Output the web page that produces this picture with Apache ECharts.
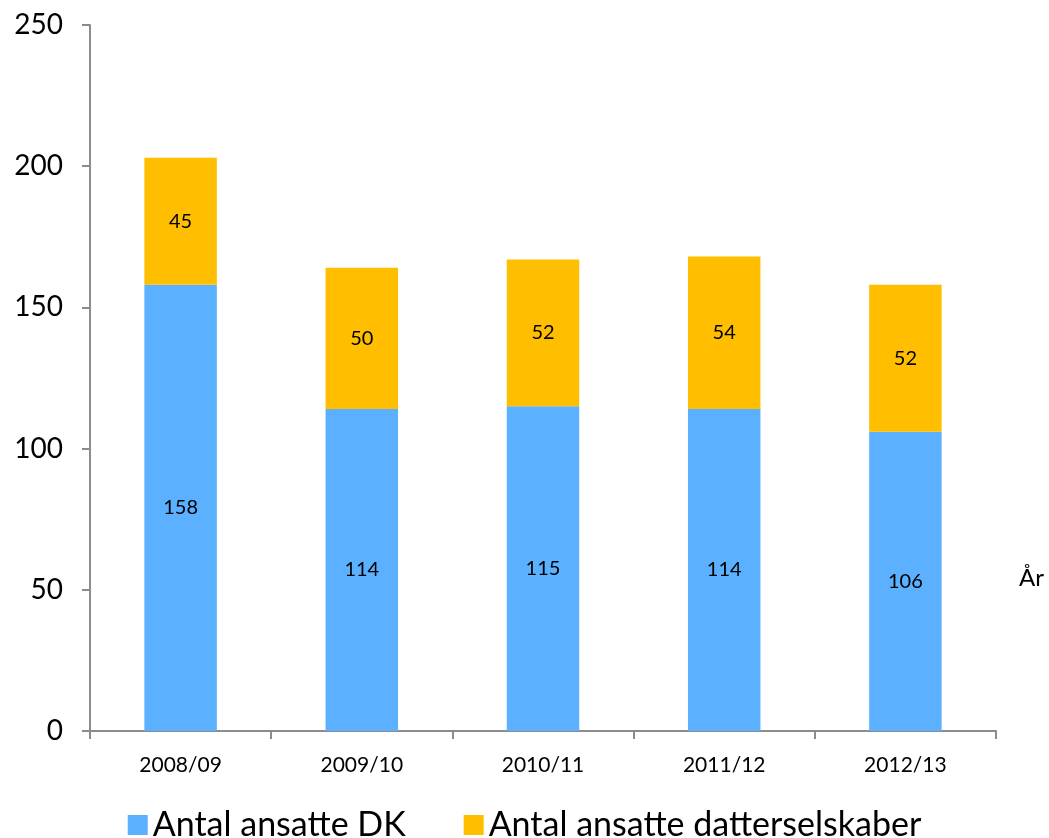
<!DOCTYPE HTML>
<html>
	<head>
		<meta http-equiv="Content-type" content="text/html; charset=UTF-8" />
		<script type="text/javascript" src="https://cdn.jsdelivr.net/npm/echarts@6/dist/echarts.min.js"></script>
		<style>
			html, body { margin: 0; padding: 0; background: #fff; }
		</style>
	</head>
	<body>
		<div id="div_1" style="width: 1049px;height:838px;"></div>
	</body>
</html>

<script>
	// år, ansatte i DK, ansatte i datterselskaber
	var years = ['2008/09', '2009/10', '2010/11', '2011/12', '2012/13']
	var ansatteDK = [158, 114, 115, 114, 106]
	var ansatteDatter = [45, 50, 52, 54, 52]

	var fontName = 'Lato'
	var myChart = echarts.init(document.getElementById('div_1'))
	var option = {
		backgroundColor: '#fff',
		animation: false,
		grid: {
			left: 90,
			right: 53,
			top: 25,
			bottom: 107
		},
		legend: {
			top: 803,
			left: 'center',
			itemWidth: 20,
			itemHeight: 20,
			itemGap: 58,
			icon: 'rect',
			data: ['Antal ansatte DK', 'Antal ansatte datterselskaber'],
			textStyle: {
				fontFamily: fontName,
				fontSize: 34,
				color: '#000'
			}
		},
		graphic: [{
			type: 'text',
			left: 1019,
			top: 566,
			style: {
				text: 'År',
				fontFamily: fontName,
				fontSize: 24,
				fill: '#000'
			}
		}],
		xAxis: {
			type: 'category',
			data: years,
			axisLine: {
				lineStyle: { color: '#8c8c8c', width: 2 }
			},
			axisTick: {
				show: true,
				alignWithLabel: false,
				length: 8,
				lineStyle: { color: '#8c8c8c', width: 2 }
			},
			axisLabel: {
				fontFamily: fontName,
				fontSize: 21,
				color: '#000',
				margin: 24
			}
		},
		yAxis: {
			type: 'value',
			min: 0,
			max: 250,
			interval: 50,
			axisLine: {
				show: true,
				lineStyle: { color: '#8c8c8c', width: 2 }
			},
			axisTick: {
				show: true,
				length: 8,
				lineStyle: { color: '#8c8c8c', width: 2 }
			},
			splitLine: { show: false },
			axisLabel: {
				fontFamily: fontName,
				fontSize: 28,
				color: '#000',
				margin: 27
			}
		},
		series: [{
			name: 'Antal ansatte DK',
			type: 'bar',
			stack: 'total',
			barWidth: '40%',
			data: ansatteDK,
			itemStyle: { color: '#5bb0ff' },
			label: {
				show: true,
				position: 'inside',
				fontFamily: fontName,
				fontSize: 20,
				color: '#000'
			}
		}, {
			name: 'Antal ansatte datterselskaber',
			type: 'bar',
			stack: 'total',
			data: ansatteDatter,
			itemStyle: { color: '#ffbf00' },
			label: {
				show: true,
				position: 'inside',
				fontFamily: fontName,
				fontSize: 20,
				color: '#000'
			}
		}]
	}
	myChart.setOption(option)
</script>
